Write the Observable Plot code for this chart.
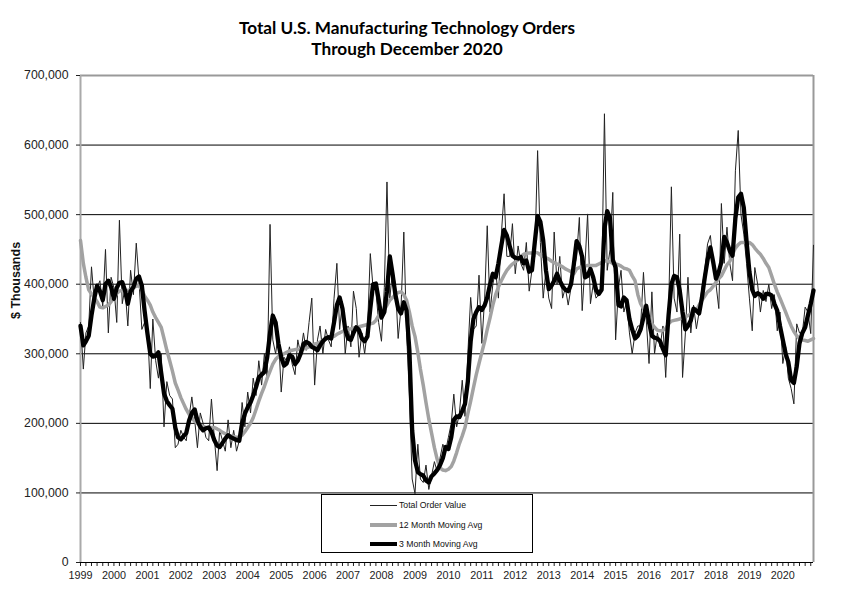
<!DOCTYPE html>
<html>
<head>
<meta charset="utf-8">
<script src="https://cdn.jsdelivr.net/npm/d3@7"></script>
<script src="https://cdn.jsdelivr.net/npm/@observablehq/plot@0.6"></script>
<style>
  body { margin: 0; background: #fff; width: 844px; height: 600px; position: relative; overflow: hidden; }
  #title { width: 814px; height: 62px; text-align: center; font-family: Lato, "Open Sans", sans-serif; font-weight: bold; font-size: 17.2px; line-height: 21px; padding-top: 17px; box-sizing: border-box; color: #000; }
  #legend { position: absolute; left: 321px; top: 494px; width: 212px; height: 59px; box-sizing: border-box; border: 1px solid #000; background: #fff; font-family: "Liberation Sans", Arial, sans-serif; font-size: 8.7px; color: #111; }
  .row { position: absolute; left: 0; height: 12px; width: 100%; }
  .sw { position: absolute; left: 48px; width: 27px; }
  .lb { position: absolute; left: 77px; top: 0; line-height: 12px; }
</style>
</head>
<body>
<div id="title">Total U.S. Manufacturing Technology Orders<br>Through December 2020</div>
<div id="chart"></div>
<div id="legend"></div>
<script>
// Monthly values, Jan 1999 .. Dec 2020, in $ thousands / 1000 (i.e. 340 = 340,000)
const startYear = 1999;
const yTicks = [0, 100, 200, 300, 400, 500, 600, 700];
const legendLabels = ["Total Order Value", "12 Month Moving Avg", "3 Month Moving Avg"];

const totalOrders = [
  345,278,330,340,425,375,395,405,368,450,330,410,
  395,345,492,372,395,340,420,385,459,405,335,345,
  340,250,350,290,265,300,195,260,240,235,165,170,
  190,180,175,210,238,205,165,215,200,180,175,235,
  180,132,190,175,160,205,165,190,160,175,230,195,
  245,215,265,240,290,255,300,265,486,320,300,330,
  245,295,290,310,285,270,320,300,330,305,345,380,
  255,320,340,300,335,320,310,380,430,335,375,300,
  340,310,390,365,295,330,300,335,444,395,390,345,
  318,395,547,380,420,400,322,365,475,330,240,120,
  99,170,120,115,140,105,125,145,130,150,170,160,
  180,200,242,195,215,262,210,300,381,335,340,413,
  315,380,484,360,400,420,380,470,530,440,440,487,
  415,455,430,420,460,390,420,440,592,460,380,420,
  380,365,475,400,440,380,395,370,395,420,440,496,
  362,430,501,372,400,380,385,395,645,420,450,532,
  320,395,420,360,375,330,300,330,340,340,417,350,
  286,389,300,330,310,340,266,360,540,380,360,472,
  266,330,410,330,370,336,360,395,420,458,470,430,
  400,365,516,430,482,430,405,563,621,500,472,430,
  380,333,424,400,360,391,375,400,365,385,333,360,
  286,310,265,250,228,343,330,330,367,360,329,456
];

const avg12 = [
  463,430,410,392,386,381,375,367,366,368,370,375,
  380,387,390,391,391,391,392,395,397,398,392,383,
  377,370,360,352,345,338,322,305,290,275,258,248,
  237,228,220,213,208,203,200,197,196,194,194,194,
  194,192,190,187,185,183,182,181,180,180,183,188,
  194,200,208,220,232,243,253,265,275,285,292,296,
  298,300,302,304,305,306,306,307,307,308,310,312,
  314,315,317,319,321,323,324,325,328,330,332,334,
  335,336,337,338,339,340,341,342,343,344,348,355,
  358,363,370,377,381,385,388,389,385,377,360,340,
  325,302,278,255,230,206,186,165,148,136,133,132,
  134,138,146,158,171,182,194,214,232,251,270,286,
  302,318,335,352,370,385,396,405,413,420,425,429,
  432,435,440,443,444,445,445,446,445,442,440,438,
  436,433,431,429,427,425,422,420,418,415,422,424,
  425,426,427,427,427,427,429,431,433,434,432,430,
  429,428,426,423,422,420,412,405,385,372,365,358,
  352,343,338,334,333,334,336,343,347,348,349,350,
  352,353,355,357,360,362,370,377,383,389,392,397,
  403,408,412,420,428,433,443,452,457,460,460,460,
  460,457,452,447,443,437,430,424,412,400,389,380,
  370,360,350,340,332,326,322,320,319,318,320,322
];

const avg3 = [
  340,312,318,326,355,380,398,390,377,400,405,396,
  379,395,402,403,391,372,390,396,408,411,398,362,
  329,300,296,297,302,272,243,232,226,221,194,180,
  177,182,186,204,215,220,204,195,190,193,194,188,
  176,168,166,172,178,183,180,178,176,175,200,214,
  223,230,240,252,266,270,274,295,330,355,345,315,
  295,283,286,298,296,285,290,300,314,317,315,310,
  308,305,312,318,322,324,322,345,370,381,365,335,
  322,320,330,338,334,322,318,325,365,400,401,378,
  352,360,390,440,415,385,365,358,374,362,305,190,
  147,130,127,125,118,115,124,128,133,140,150,166,
  163,180,205,210,209,218,228,260,318,350,360,367,
  363,370,381,400,415,410,430,455,478,470,455,441,
  438,437,439,430,434,418,420,460,498,490,463,420,
  393,398,405,415,405,397,392,390,400,428,462,455,
  439,410,412,422,410,392,386,392,480,505,495,435,
  424,370,368,381,377,350,335,322,326,335,352,369,
  345,326,323,322,318,307,298,355,400,412,410,391,
  360,335,340,348,365,362,358,381,410,435,453,432,
  408,418,432,468,460,448,441,495,525,530,510,462,
  418,392,383,387,385,379,386,386,384,372,362,340,
  320,300,288,262,258,282,315,330,338,355,372,391
];

const rows = totalOrders.map((v, i) => ({
  date: new Date(Date.UTC(startYear, i, 1)),
  total: v, ma12: avg12[i], ma3: avg3[i]
}));
const first = rows[0].date, last = rows[rows.length - 1].date;
const fmt = d3.format(",");

const chart = Plot.plot({
  width: 844, height: 538,
  marginLeft: 80, marginRight: 31, marginTop: 13, marginBottom: 38,
  style: { fontFamily: "'Liberation Sans', Arial, sans-serif", background: "#fff", color: "#222" },
  x: { type: "utc", domain: [first, last] },
  y: { domain: [0, 700] },
  marks: [
    Plot.ruleY(yTicks.filter(d => d > 0 && d < 700), { stroke: "#000", strokeWidth: 1 }),
    Plot.ruleY([700], { stroke: "#999", strokeWidth: 2 }),
    Plot.ruleX([first], { stroke: "#aaa", strokeWidth: 2 }),
    Plot.ruleX([last], { stroke: "#999", strokeWidth: 2 }),
    Plot.axisY({ ticks: yTicks, tickSize: 4, tickPadding: 8, tickFormat: d => fmt(d * 1000), fontSize: 12.3, label: null }),
    Plot.axisX({ ticks: d3.utcMonth.every(2), tickSize: 4, tickFormat: () => "", label: null }),
    Plot.axisX({ ticks: d3.utcYear.every(1), tickSize: 0, tickPadding: 9, tickFormat: d3.utcFormat("%Y"), fontSize: 10.8, label: null }),
    Plot.text(["$ Thousands"], { frameAnchor: "left", dx: -65, rotate: -90, fontWeight: "bold", fontSize: 12.5, fill: "#111" }),
    Plot.line(rows, { x: "date", y: "total", stroke: "#222", strokeWidth: 1 }),
    Plot.line(rows, { x: "date", y: "ma12", stroke: "#a2a2a2", strokeWidth: 3.5 }),
    Plot.line(rows, { x: "date", y: "ma3", stroke: "#000", strokeWidth: 4.3 }),
    Plot.ruleY([0], { stroke: "#000", strokeWidth: 1 })
  ]
});
document.getElementById("chart").appendChild(chart);

// Legend
const legend = document.getElementById("legend");
const styles = [
  { h: 1, c: "#222" },
  { h: 4, c: "#a2a2a2" },
  { h: 4, c: "#000" }
];
legendLabels.forEach((t, i) => {
  const row = document.createElement("div");
  row.className = "row";
  row.style.top = (4 + i * 19.5) + "px";
  const sw = document.createElement("div");
  sw.className = "sw";
  sw.style.height = styles[i].h + "px";
  sw.style.background = styles[i].c;
  sw.style.top = (6 - styles[i].h / 2) + "px";
  const lb = document.createElement("div");
  lb.className = "lb";
  lb.textContent = t;
  row.appendChild(sw); row.appendChild(lb);
  legend.appendChild(row);
});
</script>
</body>
</html>
